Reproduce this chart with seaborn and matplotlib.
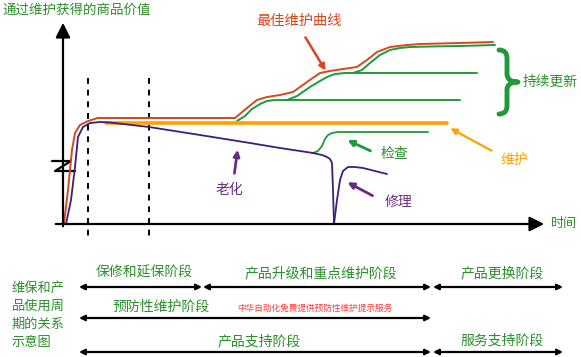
import numpy as np
import pandas as pd
import seaborn as sns
import matplotlib.pyplot as plt
from matplotlib.path import Path
from matplotlib.patches import PathPatch

# curve points (pixel grid, y grows downward)
best_x = [64, 68, 72, 75, 80, 88, 98, 110, 235, 247, 257, 267, 280, 293, 307, 320, 330, 343, 357, 367, 377, 390, 407, 420, 460, 493]
best_y = [224, 190, 150, 133, 125, 121, 118, 118, 118, 108, 100, 97, 95, 92, 82, 73, 71, 69, 67, 60, 52, 47, 45, 44, 43, 42]

renew1_x = [237, 245, 252, 260, 267, 275, 287, 460]
renew1_y = [121, 116, 109, 104, 101, 100, 100, 100]
renew2_x = [287, 297, 310, 320, 327, 335, 345, 360, 477]
renew2_y = [100, 96, 87, 81, 77, 74, 73, 73, 73]
renew3_x = [353, 362, 370, 380, 390, 400, 410, 430, 460, 495]
renew3_y = [73, 70, 63, 55, 50, 48, 47, 46.5, 46, 45]

check_x = [313, 318, 322, 325, 328, 332, 338, 428]
check_y = [153, 151, 146, 139, 135, 133, 132, 132]

aging_x = [66, 71, 75, 78, 83, 90, 100, 110, 149, 200, 250, 280, 313, 322, 327, 330, 332, 333, 334]
aging_y = [224, 200, 167, 137, 127, 123, 122, 122.5, 127, 135, 143, 148, 153, 155, 157, 159, 163, 190, 224]

repair_x = [334, 337, 340, 343, 348, 355, 363, 375, 387]
repair_y = [224, 200, 180, 171, 167, 167, 168, 171, 174]

maint_x = [106, 447]
maint_y = [123, 123]

phase_x = [88, 149]

# bottom stage rows: (label, start, end)
row1 = [("保修和延保阶段", 79, 202), ("产品升级和重点维护阶段", 203, 431), ("产品更换阶段", 433, 563)]
row2 = [("预防性维护阶段", 79, 431)]
row3 = [("产品支持阶段", 79, 431), ("服务支持阶段", 433, 563)]

sns.set_theme(style="white")
plt.rcParams['font.family'] = ['Noto Sans CJK SC', 'DejaVu Sans']

RED = '#d2491e'
GREEN = '#1f9a3a'
TGREEN = '#2b8f2b'
ORANGE = '#ffa000'
PURPLE = '#3b1f7c'
TPURPLE = '#6a2c7e'

fig = plt.figure(figsize=(5.81, 3.57), dpi=100)
ax = fig.add_axes([0, 0, 1, 1])
ax.set_xlim(0, 581)
ax.set_ylim(357, 0)
ax.axis('off')

# axes with arrow heads
ax.annotate('', xy=(63, 20), xytext=(63, 229),
            arrowprops=dict(arrowstyle='-|>', color='black', lw=1.6, mutation_scale=22))
ax.annotate('', xy=(547, 224), xytext=(53, 224),
            arrowprops=dict(arrowstyle='-|>', color='black', lw=1.6, mutation_scale=22))
ax.plot([52, 71, 55, 75], [161, 161, 171, 171], color='black', lw=1.6)

for px in phase_x:
    ax.plot([px, px], [78, 238], color='black', lw=1.4, ls=(0, (3, 3)))

def curve(xs, ys, color, lw):
    sns.lineplot(x=xs, y=ys, sort=False, estimator=None, color=color, lw=lw, ax=ax)

curve(best_x, best_y, RED, 1.4)
curve(renew1_x, renew1_y, GREEN, 1.4)
curve(renew2_x, renew2_y, GREEN, 1.4)
curve(renew3_x, renew3_y, GREEN, 1.4)
curve(maint_x, maint_y, ORANGE, 2.6)
curve(check_x, check_y, GREEN, 1.3)
curve(aging_x, aging_y, PURPLE, 1.3)
curve(repair_x, repair_y, PURPLE, 1.3)

# curly brace for the renewal branches
verts = [(499, 50), (507, 50), (507, 58), (507, 74), (507, 82), (518, 82),
         (507, 82), (507, 90), (507, 106), (507, 114), (499, 114)]
codes = [Path.MOVETO, Path.CURVE3, Path.CURVE3, Path.LINETO, Path.CURVE3, Path.CURVE3,
         Path.CURVE3, Path.CURVE3, Path.LINETO, Path.CURVE3, Path.CURVE3]
ax.add_patch(PathPatch(Path(verts, codes), fill=False, edgecolor=GREEN, lw=3.5,
                       capstyle='round', joinstyle='round'))

# labels and pointers
ax.text(2, 10, "通过维护获得的商品价值", color=TGREEN, fontsize=9.7, va='center', ha='left')
ax.text(551, 224, "时间", color=TGREEN, fontsize=9.4, va='center', ha='left')
ax.text(299, 21, "最佳维护曲线", color=RED, fontsize=10.3, va='center', ha='center')
ax.annotate('', xy=(327, 73), xytext=(304, 35),
            arrowprops=dict(arrowstyle='-|>', color=RED, lw=1.8, mutation_scale=9))
ax.text(550, 82, "持续更新", color=TGREEN, fontsize=9.9, va='center', ha='center')
ax.text(514, 160, "维护", color=ORANGE, fontsize=10, va='center', ha='center')
ax.annotate('', xy=(448, 127), xytext=(494, 152),
            arrowprops=dict(arrowstyle='-|>', color=ORANGE, lw=1.6, mutation_scale=9))
ax.text(394, 154, "检查", color=TGREEN, fontsize=10, va='center', ha='center')
ax.annotate('', xy=(345, 139), xytext=(373, 152),
            arrowprops=dict(arrowstyle='-|>', color=GREEN, lw=2, mutation_scale=9))
ax.text(399, 202, "修理", color=TPURPLE, fontsize=10, va='center', ha='center')
ax.annotate('', xy=(345, 181), xytext=(375, 197),
            arrowprops=dict(arrowstyle='-|>', color=TPURPLE, lw=2, mutation_scale=9))
ax.text(229, 190, "老化", color=TPURPLE, fontsize=10, va='center', ha='center')
ax.annotate('', xy=(238, 147), xytext=(234, 176),
            arrowprops=dict(arrowstyle='-|>', color=TPURPLE, lw=2, mutation_scale=9))

# bottom: lifecycle relationship
for i, line in enumerate(["维保和产", "品使用周", "期的关系", "示意图"]):
    ax.text(12, 288 + i * 18.3, line, color=TGREEN, fontsize=9.5, va='center', ha='left')

for rows, ya, yt in [(row1, 287, 273), (row2, 318, 307), (row3, 352, 341)]:
    for label, x0, x1 in rows:
        ax.annotate('', xy=(x1, ya), xytext=(x0, ya),
                    arrowprops=dict(arrowstyle='<|-|>', color='black', lw=1.6,
                                    mutation_scale=8, shrinkA=0, shrinkB=0))
        if rows is row2:
            ax.text(161, yt, label, color=TGREEN, fontsize=10, va='center', ha='center')
        else:
            ax.text((x0 + x1) / 2 + 4, yt, label, color=TGREEN, fontsize=10, va='center', ha='center')
ax.text(315, 308, "中华自动化免费提供预防性维护提示服务", color='#ff3b3b', fontsize=6.2,
        va='center', ha='center')

fig.savefig('out.png', dpi=100)
